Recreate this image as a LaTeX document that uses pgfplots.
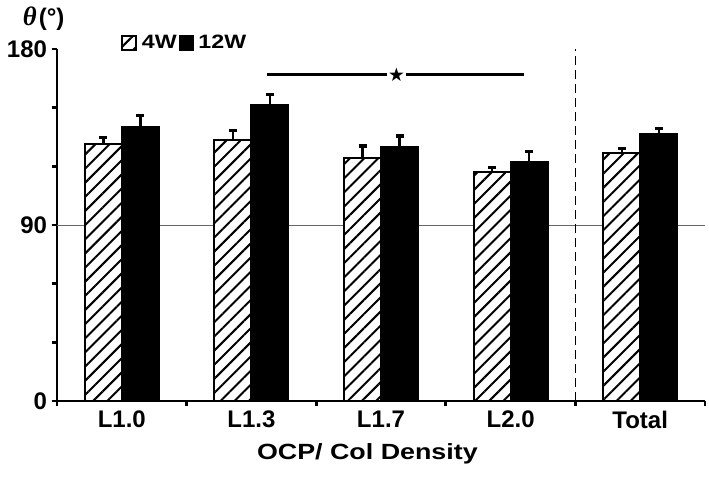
\documentclass[border=0pt]{standalone}
\usepackage{fontspec}
\setmainfont{Liberation Sans}
\newfontfamily\symfont{DejaVu Sans}
\newfontfamily\seriffont{Liberation Serif}
\usepackage{pgfplots}
\pgfplotsset{compat=1.18}
\usetikzlibrary{patterns.meta}
\begin{document}
\begin{tikzpicture}
\useasboundingbox (-42.75pt,-59.25pt) rectangle (489pt,300.75pt);
\begin{axis}[
  at={(0pt,0pt)}, anchor=south west,
  scale only axis, width=486pt, height=264pt,
  xmin=-0.5, xmax=4.5, ymin=0, ymax=180,
  clip=false,
  axis lines=left,
  axis line style={-, line width=2.2pt},
  ybar=0pt, bar width=27.75pt,
  tick align=outside,
  major tick length=4pt, minor tick length=4pt,
  tick style={black, line width=2pt},
  /pgf/number format/assume math mode=true,
  ytick={0,90,180},
  minor ytick={30,60,120,150},
  xtick={-0.5,0.5,1.5,2.5,3.5,4.5},
  xticklabels={L1.0,L1.3,L1.7,L2.0,Total,{}},
  xticklabel style={xshift=48.6pt},
  tick label style={font=\fontsize{18}{18}\selectfont\bfseries},
  extra y ticks={90}, extra y tick labels={},
  extra y tick style={grid=major, major grid style={black!60, line width=0.7pt}},
  every axis y label/.style={at={(rel axis cs:0,1)}, anchor=base, xshift=-10pt, yshift=18pt},
  ylabel={{\seriffont\itshape\bfseries\fontsize{20}{20}\selectfont θ}\,{\fontsize{18}{18}\selectfont\bfseries(°)}},
  every axis x label/.style={at={(axis description cs:0.479,0)}, anchor=base, yshift=-43.5pt},
  xlabel={\fontsize{16.5}{17}\selectfont\bfseries\scalebox{1.22}[1]{OCP/ Col Density}},
  error bars/y dir=plus, error bars/y explicit,
  error bars/error bar style={line width=1.8pt, black, solid},
  error bars/error mark options={rotate=90, line width=2.4pt, black, mark size=3pt},
  legend style={draw=none, fill=none, at={(0.093,1.017)}, anchor=west, legend columns=2,
    font=\fontsize{14.5}{14.5}\selectfont\bfseries,
    /tikz/every even column/.append style={column sep=0pt}},
  legend image code/.code={\draw[#1, line width=1.3pt] (0pt,-5pt) rectangle (10pt,5pt);},
]
\addplot[draw=black, line width=1.5pt, preaction={fill=white},
  pattern={Lines[angle=45,distance=7.5pt,line width=1.5pt]}]
  coordinates {(0,131.4) +- (0,3.4) (1,133.4) +- (0,5.1) (2,124.5) +- (0,5.9) (3,117.2) +- (0,2.3) (4,126.9) +- (0,2.1)};
\addlegendentry{\hspace{2pt}\scalebox{1.2}[1]{4W}}
\addplot[draw=black, fill=black, line width=1.5pt]
  coordinates {(0,140.2) +- (0,5.6) (1,151.3) +- (0,5.6) (2,130.0) +- (0,5.5) (3,122.3) +- (0,5.1) (4,136.3) +- (0,2.9)};
\addlegendentry{\hspace{1pt}\scalebox{1.2}[1]{12W}}
\draw[black, line width=1.3pt, dash pattern=on 7pt off 3.5pt] (axis cs:3.5,0) -- (axis cs:3.5,180);
\draw[line width=2.2pt] (axis cs:1.12,167) -- (axis cs:3.10,167);
\node[fill=white, inner sep=1pt, font=\symfont\fontsize{14}{14}\selectfont] at (axis cs:2.12,167) {★};
\end{axis}
\end{tikzpicture}
\end{document}
